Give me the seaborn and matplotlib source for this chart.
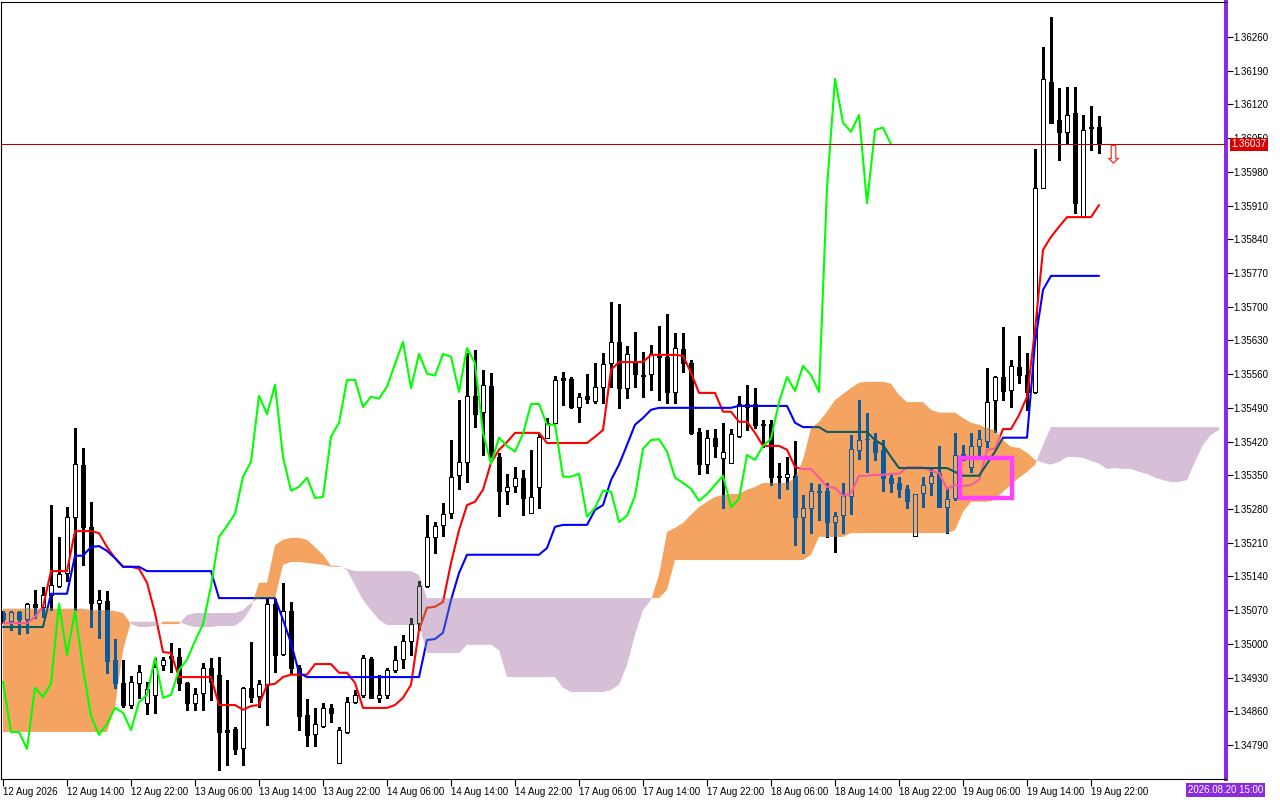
import numpy as np
import pandas as pd
import matplotlib
matplotlib.use("Agg")
import matplotlib.pyplot as plt
from matplotlib.path import Path
from matplotlib.patches import Rectangle
import seaborn as sns

# ---------------- data (H1 bars, 12 Aug 06:00 .. 19 Aug 23:00) ----------------
tick_labels = ["12 Aug 2026", "12 Aug 14:00", "12 Aug 22:00", "13 Aug 06:00", "13 Aug 14:00",
               "13 Aug 22:00", "14 Aug 06:00", "14 Aug 14:00", "14 Aug 22:00", "17 Aug 06:00",
               "17 Aug 14:00", "17 Aug 22:00", "18 Aug 06:00", "18 Aug 14:00", "18 Aug 22:00",
               "19 Aug 06:00", "19 Aug 14:00", "19 Aug 22:00"]
tick_every = 8
price_ticks = [1.34790, 1.34860, 1.34930, 1.35000, 1.35070, 1.35140, 1.35210, 1.35280,
               1.35350, 1.35420, 1.35490, 1.35560, 1.35630, 1.35700, 1.35770, 1.35840,
               1.35910, 1.35980, 1.36050, 1.36120, 1.36190, 1.36260]

open_ = [
    1.35064, 1.35048, 1.35066, 1.35052, 1.35083, 1.35077, 1.35102, 1.35120, 1.35147, 1.35264,
    1.35372, 1.35243, 1.35085, 1.35089, 1.34967, 1.34919, 1.34873, 1.34919, 1.34877, 1.34894,
    1.34956, 1.34975, 1.34973, 1.34919, 1.34877, 1.34898, 1.34950, 1.34936, 1.34821, 1.34823,
    1.34784, 1.34909, 1.34892, 1.34915, 1.35083, 1.34979, 1.35068, 1.34950, 1.34852, 1.34813,
    1.34830, 1.34867, 1.34753, 1.34817, 1.34879, 1.34894, 1.34969, 1.34888, 1.34894, 1.34946,
    1.34969, 1.35006, 1.35043, 1.35120, 1.35222, 1.35247, 1.35272, 1.35351, 1.35378, 1.35515,
    1.35482, 1.35536, 1.35388, 1.35318, 1.35328, 1.35345, 1.35272, 1.35326, 1.35428, 1.35459,
    1.35552, 1.35550, 1.35492, 1.35515, 1.35504, 1.35534, 1.35583, 1.35627, 1.35531, 1.35585,
    1.35558, 1.35561, 1.35598, 1.35596, 1.35523, 1.35612, 1.35583, 1.35440, 1.35374, 1.35428,
    1.35386, 1.35376, 1.35432, 1.35492, 1.35498, 1.35457, 1.35457, 1.35349, 1.35347, 1.35349,
    1.35264, 1.35282, 1.35318, 1.35318, 1.35253, 1.35268, 1.35307, 1.35403, 1.35426, 1.35421,
    1.35403, 1.35345, 1.35334, 1.35322, 1.35224, 1.35313, 1.35334, 1.35355, 1.35284, 1.35303,
    1.35394, 1.35367, 1.35411, 1.35421, 1.35506, 1.35554, 1.35527, 1.35575, 1.35558, 1.35523,
    1.35947, 1.36167, 1.36088, 1.36063, 1.36102, 1.35888, 1.36073, 1.36073]
high = [
    1.35068, 1.35068, 1.35068, 1.35085, 1.35112, 1.35118, 1.35288, 1.35222, 1.35284, 1.35448,
    1.35407, 1.35295, 1.35112, 1.35110, 1.35010, 1.34967, 1.34933, 1.34956, 1.34921, 1.34971,
    1.34973, 1.35002, 1.34992, 1.34921, 1.34909, 1.34960, 1.34971, 1.34973, 1.34925, 1.34828,
    1.34911, 1.35004, 1.34925, 1.35093, 1.35093, 1.35126, 1.35087, 1.34956, 1.34886, 1.34867,
    1.34877, 1.34875, 1.34828, 1.34890, 1.34904, 1.34977, 1.34973, 1.34936, 1.34950, 1.34996,
    1.35019, 1.35054, 1.35131, 1.35268, 1.35253, 1.35293, 1.35423, 1.35506, 1.35604, 1.35610,
    1.35569, 1.35563, 1.35397, 1.35353, 1.35367, 1.35361, 1.35403, 1.35436, 1.35469, 1.35556,
    1.35565, 1.35554, 1.35521, 1.35561, 1.35583, 1.35604, 1.35710, 1.35706, 1.35619, 1.35648,
    1.35606, 1.35621, 1.35660, 1.35685, 1.35646, 1.35646, 1.35590, 1.35448, 1.35444, 1.35446,
    1.35459, 1.35446, 1.35515, 1.35538, 1.35531, 1.35465, 1.35465, 1.35376, 1.35388, 1.35421,
    1.35309, 1.35334, 1.35332, 1.35334, 1.35274, 1.35334, 1.35434, 1.35506, 1.35480, 1.35438,
    1.35423, 1.35355, 1.35347, 1.35330, 1.35311, 1.35347, 1.35363, 1.35411, 1.35324, 1.35438,
    1.35413, 1.35438, 1.35444, 1.35573, 1.35556, 1.35658, 1.35590, 1.35639, 1.35604, 1.36028,
    1.36239, 1.36302, 1.36154, 1.36156, 1.36156, 1.36098, 1.36117, 1.36096]
low = [
    1.35045, 1.35029, 1.35021, 1.35023, 1.35054, 1.35056, 1.35070, 1.35118, 1.35131, 1.35070,
    1.35164, 1.35035, 1.35012, 1.34940, 1.34909, 1.34869, 1.34867, 1.34888, 1.34855, 1.34857,
    1.34946, 1.34942, 1.34904, 1.34863, 1.34863, 1.34863, 1.34884, 1.34738, 1.34749, 1.34772,
    1.34749, 1.34879, 1.34869, 1.34832, 1.34942, 1.34977, 1.34940, 1.34821, 1.34788, 1.34788,
    1.34828, 1.34838, 1.34753, 1.34815, 1.34877, 1.34890, 1.34888, 1.34879, 1.34888, 1.34942,
    1.34950, 1.34977, 1.35029, 1.35118, 1.35189, 1.35224, 1.35261, 1.35322, 1.35336, 1.35450,
    1.35392, 1.35388, 1.35266, 1.35291, 1.35316, 1.35268, 1.35272, 1.35282, 1.35428, 1.35459,
    1.35496, 1.35490, 1.35461, 1.35500, 1.35500, 1.35500, 1.35534, 1.35490, 1.35511, 1.35534,
    1.35513, 1.35527, 1.35506, 1.35500, 1.35500, 1.35565, 1.35436, 1.35353, 1.35355, 1.35388,
    1.35282, 1.35376, 1.35430, 1.35444, 1.35448, 1.35409, 1.35330, 1.35303, 1.35322, 1.35205,
    1.35189, 1.35230, 1.35257, 1.35222, 1.35191, 1.35230, 1.35270, 1.35384, 1.35357, 1.35382,
    1.35318, 1.35316, 1.35305, 1.35282, 1.35224, 1.35284, 1.35309, 1.35284, 1.35230, 1.35299,
    1.35382, 1.35357, 1.35388, 1.35409, 1.35440, 1.35506, 1.35492, 1.35542, 1.35486, 1.35521,
    1.35947, 1.36082, 1.36005, 1.36040, 1.35895, 1.35888, 1.36026, 1.36019]
close = [
    1.35052, 1.35066, 1.35052, 1.35083, 1.35077, 1.35102, 1.35122, 1.35145, 1.35264, 1.35374,
    1.35243, 1.35085, 1.35091, 1.34965, 1.34919, 1.34873, 1.34921, 1.34942, 1.34906, 1.34952,
    1.34967, 1.34971, 1.34919, 1.34877, 1.34896, 1.34950, 1.34921, 1.34817, 1.34817, 1.34782,
    1.34909, 1.34890, 1.34917, 1.35083, 1.34977, 1.35068, 1.34950, 1.34850, 1.34811, 1.34834,
    1.34867, 1.34857, 1.34821, 1.34879, 1.34894, 1.34971, 1.34888, 1.34894, 1.34946, 1.34967,
    1.35006, 1.35041, 1.35120, 1.35222, 1.35245, 1.35270, 1.35347, 1.35378, 1.35515, 1.35477,
    1.35538, 1.35388, 1.35318, 1.35326, 1.35345, 1.35303, 1.35305, 1.35430, 1.35459, 1.35548,
    1.35548, 1.35492, 1.35513, 1.35509, 1.35534, 1.35581, 1.35627, 1.35531, 1.35602, 1.35561,
    1.35557, 1.35602, 1.35596, 1.35523, 1.35614, 1.35583, 1.35438, 1.35374, 1.35428, 1.35411,
    1.35399, 1.35436, 1.35498, 1.35498, 1.35455, 1.35455, 1.35347, 1.35347, 1.35353, 1.35264,
    1.35282, 1.35318, 1.35316, 1.35253, 1.35266, 1.35307, 1.35405, 1.35423, 1.35425, 1.35399,
    1.35345, 1.35334, 1.35322, 1.35297, 1.35311, 1.35330, 1.35349, 1.35284, 1.35301, 1.35392,
    1.35382, 1.35411, 1.35426, 1.35502, 1.35554, 1.35525, 1.35577, 1.35558, 1.35523, 1.35947,
    1.36173, 1.36082, 1.36063, 1.36098, 1.35915, 1.36067, 1.36072, 1.36037]

tenkan = [
    1.35043, 1.35043, 1.35043, 1.35043, 1.35056, 1.35077, 1.35151, 1.35151, 1.35151, 1.35234,
    1.35234, 1.35234, 1.35230, 1.35201, 1.35178, 1.35160, 1.35160, 1.35156, 1.35127, 1.35064,
    1.34983, 1.34981, 1.34931, 1.34931, 1.34931, 1.34931, 1.34931, 1.34873, 1.34873, 1.34873,
    1.34863, 1.34871, 1.34873, 1.34915, 1.34917, 1.34931, 1.34936, 1.34936, 1.34936, 1.34958,
    1.34958, 1.34958, 1.34940, 1.34940, 1.34919, 1.34867, 1.34867, 1.34867, 1.34867, 1.34873,
    1.34888, 1.34915, 1.35029, 1.35075, 1.35077, 1.35087, 1.35168, 1.35236, 1.35288, 1.35295,
    1.35320, 1.35376, 1.35403, 1.35419, 1.35438, 1.35438, 1.35438, 1.35438, 1.35417, 1.35417,
    1.35417, 1.35417, 1.35417, 1.35417, 1.35430, 1.35444, 1.35569, 1.35585, 1.35585, 1.35585,
    1.35585, 1.35600, 1.35600, 1.35600, 1.35600, 1.35598, 1.35563, 1.35521, 1.35521, 1.35521,
    1.35482, 1.35482, 1.35461, 1.35461, 1.35438, 1.35411, 1.35411, 1.35411, 1.35403, 1.35367,
    1.35363, 1.35363, 1.35345, 1.35326, 1.35324, 1.35307, 1.35313, 1.35349, 1.35349, 1.35351,
    1.35351, 1.35353, 1.35353, 1.35367, 1.35367, 1.35367, 1.35359, 1.35355, 1.35322, 1.35330,
    1.35328, 1.35330, 1.35340, 1.35403, 1.35405, 1.35446, 1.35446, 1.35475, 1.35513, 1.35652,
    1.35818, 1.35845, 1.35866, 1.35886, 1.35886, 1.35886, 1.35886, 1.35911]
kijun = [
    1.35035, 1.35035, 1.35035, 1.35035, 1.35035, 1.35035, 1.35104, 1.35104, 1.35104, 1.35183,
    1.35183, 1.35201, 1.35203, 1.35193, 1.35178, 1.35160, 1.35160, 1.35160, 1.35151, 1.35151,
    1.35151, 1.35151, 1.35151, 1.35151, 1.35151, 1.35151, 1.35151, 1.35095, 1.35095, 1.35095,
    1.35095, 1.35095, 1.35095, 1.35095, 1.35095, 1.35050, 1.35002, 1.34940, 1.34931, 1.34931,
    1.34931, 1.34931, 1.34931, 1.34931, 1.34931, 1.34931, 1.34931, 1.34931, 1.34931, 1.34931,
    1.34931, 1.34931, 1.34931, 1.35008, 1.35010, 1.35023, 1.35091, 1.35147, 1.35185, 1.35185,
    1.35185, 1.35185, 1.35185, 1.35185, 1.35185, 1.35185, 1.35185, 1.35185, 1.35199, 1.35243,
    1.35247, 1.35247, 1.35247, 1.35247, 1.35278, 1.35288, 1.35340, 1.35372, 1.35413, 1.35455,
    1.35469, 1.35486, 1.35490, 1.35490, 1.35490, 1.35490, 1.35490, 1.35490, 1.35490, 1.35490,
    1.35490, 1.35490, 1.35494, 1.35494, 1.35494, 1.35494, 1.35494, 1.35494, 1.35494, 1.35459,
    1.35450, 1.35450, 1.35450, 1.35440, 1.35440, 1.35440, 1.35440, 1.35440, 1.35440, 1.35423,
    1.35413, 1.35388, 1.35365, 1.35365, 1.35365, 1.35365, 1.35365, 1.35365, 1.35365, 1.35357,
    1.35349, 1.35349, 1.35349, 1.35374, 1.35399, 1.35428, 1.35428, 1.35428, 1.35428, 1.35625,
    1.35735, 1.35764, 1.35764, 1.35764, 1.35764, 1.35764, 1.35764, 1.35764]
span_a = [
    1.35073, 1.35073, 1.35073, 1.35073, 1.35073, 1.35073, 1.35073, 1.35073, 1.35073, 1.35073,
    1.35073, 1.35070, 1.35070, 1.35070, 1.35068, 1.35064, 1.35041, 1.35035, 1.35035, 1.35037,
    1.35046, 1.35046, 1.35046, 1.35039, 1.35035, 1.35035, 1.35035, 1.35037, 1.35037, 1.35037,
    1.35050, 1.35075, 1.35127, 1.35127, 1.35205, 1.35216, 1.35220, 1.35220, 1.35216, 1.35201,
    1.35185, 1.35162, 1.35162, 1.35153, 1.35122, 1.35091, 1.35070, 1.35050, 1.35039, 1.35039,
    1.35039, 1.35039, 1.35039, 1.34981, 1.34981, 1.34981, 1.34981, 1.34981, 1.34998, 1.34998,
    1.34998, 1.34998, 1.34987, 1.34931, 1.34931, 1.34931, 1.34931, 1.34931, 1.34931, 1.34931,
    1.34909, 1.34900, 1.34900, 1.34900, 1.34900, 1.34900, 1.34904, 1.34915, 1.34956, 1.35019,
    1.35070, 1.35091, 1.35143, 1.35232, 1.35241, 1.35251, 1.35268, 1.35284, 1.35295, 1.35305,
    1.35309, 1.35311, 1.35311, 1.35320, 1.35326, 1.35334, 1.35334, 1.35334, 1.35334, 1.35345,
    1.35382, 1.35448, 1.35461, 1.35482, 1.35506, 1.35519, 1.35531, 1.35542, 1.35544, 1.35544,
    1.35544, 1.35540, 1.35517, 1.35502, 1.35502, 1.35502, 1.35486, 1.35480, 1.35480, 1.35480,
    1.35469, 1.35459, 1.35455, 1.35448, 1.35444, 1.35423, 1.35409, 1.35407, 1.35397, 1.35382,
    1.35376, 1.35372, 1.35378, 1.35388, 1.35388, 1.35386, 1.35380, 1.35374, 1.35363, 1.35365,
    1.35363, 1.35363, 1.35357, 1.35353, 1.35345, 1.35340, 1.35336, 1.35336, 1.35340, 1.35378,
    1.35413, 1.35434, 1.35444]
span_b = [
    1.34817, 1.34817, 1.34817, 1.34817, 1.34817, 1.34817, 1.34817, 1.34817, 1.34817, 1.34817,
    1.34817, 1.34817, 1.34817, 1.34817, 1.34869, 1.34987, 1.35046, 1.35046, 1.35046, 1.35046,
    1.35041, 1.35041, 1.35041, 1.35060, 1.35064, 1.35064, 1.35064, 1.35064, 1.35064, 1.35064,
    1.35070, 1.35085, 1.35095, 1.35095, 1.35095, 1.35164, 1.35170, 1.35170, 1.35168, 1.35166,
    1.35164, 1.35160, 1.35160, 1.35156, 1.35151, 1.35151, 1.35151, 1.35151, 1.35151, 1.35151,
    1.35151, 1.35151, 1.35143, 1.35095, 1.35095, 1.35095, 1.35095, 1.35095, 1.35095, 1.35095,
    1.35095, 1.35095, 1.35095, 1.35095, 1.35095, 1.35095, 1.35095, 1.35095, 1.35095, 1.35095,
    1.35095, 1.35095, 1.35095, 1.35095, 1.35095, 1.35095, 1.35095, 1.35095, 1.35095, 1.35095,
    1.35095, 1.35095, 1.35095, 1.35112, 1.35174, 1.35174, 1.35174, 1.35174, 1.35174, 1.35174,
    1.35174, 1.35174, 1.35174, 1.35174, 1.35174, 1.35174, 1.35174, 1.35174, 1.35174, 1.35174,
    1.35174, 1.35185, 1.35222, 1.35222, 1.35222, 1.35222, 1.35230, 1.35230, 1.35230, 1.35230,
    1.35230, 1.35230, 1.35230, 1.35230, 1.35230, 1.35230, 1.35230, 1.35230, 1.35230, 1.35236,
    1.35274, 1.35295, 1.35295, 1.35295, 1.35299, 1.35316, 1.35330, 1.35345, 1.35357, 1.35372,
    1.35413, 1.35450, 1.35450, 1.35450, 1.35450, 1.35450, 1.35450, 1.35450, 1.35450, 1.35450,
    1.35450, 1.35450, 1.35450, 1.35450, 1.35450, 1.35450, 1.35450, 1.35450, 1.35450, 1.35450,
    1.35450, 1.35450, 1.35450]
chikou_shift = 26
box_bars = [119.6, 126.1]
box_prices = [1.35303, 1.35386]
arrow_bar = 138.75
arrow_price = 1.36013
end_time_label = "2026.08.20 15:00"

# ---------------- style ----------------
sns.set_theme(style="white")
plt.rcParams['font.family'] = ['Liberation Sans', 'DejaVu Sans']

ORANGE = '#f4a460'
THISTLE = '#d8bfd8'
PURPLE = '#8a2be2'

W, H = 1280, 800
fig = plt.figure(figsize=(W / 100, H / 100), dpi=100, facecolor='white')
ax = fig.add_axes([1 / W, 21 / H, 1224.5 / W, 777 / H])
ax.set_facecolor('white')

o = np.array(open_)
hi = np.array(high)
lo = np.array(low)
c = np.array(close)
n = len(c)
idx = np.arange(n)


def candles(wick, bull_face, bull_edge, bear, z, clip=None):
    arts = [ax.vlines(idx, lo, hi, colors=wick, linewidth=0.75, zorder=z, antialiased=False)]
    up = c >= o
    bot = np.minimum(o, c)
    ht = np.abs(c - o)
    arts += list(ax.bar(idx[up], ht[up], bottom=bot[up], width=0.6, facecolor=bull_face,
                        edgecolor=bull_edge, linewidth=0.6, zorder=z + 0.1,
                        antialiased=False, snap=True))
    arts += list(ax.bar(idx[~up], ht[~up], bottom=bot[~up], width=0.6, facecolor=bear,
                        edgecolor=bear, linewidth=0.6, zorder=z + 0.1,
                        antialiased=False, snap=True))
    if clip is not None:
        for a in arts:
            a.set_clip_path(clip, ax.transData)


# base candles
candles('black', 'white', 'black', 'black', 2)

# tenkan / kijun
df_lines = pd.DataFrame({'bar': idx, 'tenkan': tenkan, 'kijun': kijun})
sns.lineplot(data=df_lines, x='bar', y='tenkan', ax=ax, color='#ff0000', linewidth=1.5, zorder=3)
sns.lineplot(data=df_lines, x='bar', y='kijun', ax=ax, color='#0000ff', linewidth=1.5, zorder=3)

# cloud
pos = np.arange(len(span_a))
A = np.array(span_a)
B = np.array(span_b)
cloud_up = ax.fill_between(pos, A, B, where=A >= B, interpolate=True, facecolor=ORANGE,
                           edgecolor='none', linewidth=0, zorder=4)
cloud_dn = ax.fill_between(pos, A, B, where=A < B, interpolate=True, facecolor=THISTLE,
                           edgecolor='none', linewidth=0, zorder=4)


def compound(coll):
    ps = coll.get_paths()
    return Path.make_compound_path(*ps) if len(ps) else None


clip_up = compound(cloud_up)
clip_dn = compound(cloud_dn)

# colour-inverted look of everything under the cloud
for clip, blk, bface, red, blue in [(clip_up, '#0b5b9f', ORANGE, '#f45b9f', '#0b5b60'),
                                    (clip_dn, '#274027', THISTLE, '#d84027', '#2740d8')]:
    if clip is None:
        continue
    candles(blk, bface, blk, blk, 5, clip)
    l1, = ax.plot(idx, tenkan, color=red, linewidth=1.5, zorder=5.5)
    l2, = ax.plot(idx, kijun, color=blue, linewidth=1.5, zorder=5.5)
    l1.set_clip_path(clip, ax.transData)
    l2.set_clip_path(clip, ax.transData)

# chikou span
df_ch = pd.DataFrame({'bar': idx[chikou_shift:] - chikou_shift, 'close': c[chikou_shift:]})
sns.lineplot(data=df_ch, x='bar', y='close', ax=ax, color='#00ff00', linewidth=1.5, zorder=6)

# current price line
ax.axhline(c[-1], color='#b00000', linewidth=0.75, zorder=6.5)

# highlight box and arrow
ax.add_patch(Rectangle((box_bars[0], box_prices[0]), box_bars[1] - box_bars[0],
                       box_prices[1] - box_prices[0], fill=False, edgecolor='#ff40ff',
                       linewidth=3.2, zorder=8))
ax.text(arrow_bar, arrow_price, '\u21e9', color='#ff2a2a', fontsize=18, ha='center',
        va='center', family='DejaVu Sans', zorder=9)

# axes
ax.set_xlim(-0.25, 152.81)
ax.set_ylim(1.347194, 1.363326)
ax.set_xlabel('')
ax.set_ylabel('')
ax.grid(False)

ax.set_xticks(idx[::tick_every][:len(tick_labels)])
ax.set_xticklabels(tick_labels, ha='left')
ax.set_yticks(price_ticks)
ax.set_yticklabels([f"{p:.5f}" for p in price_ticks])
ax.yaxis.tick_right()
ax.tick_params(axis='y', which='both', right=True, left=False, labelright=True, labelleft=False,
               length=4.8, width=0.8, pad=1, labelsize=7, colors='black', direction='out')
ax.tick_params(axis='x', which='both', bottom=True, length=5, width=0.8, pad=1,
               labelsize=7, colors='black', direction='out')

for s in ['left', 'top', 'bottom']:
    ax.spines[s].set_color('black')
    ax.spines[s].set_linewidth(0.8)
ax.spines['right'].set_color(PURPLE)
ax.spines['right'].set_linewidth(2.9)

# current price label
ax.annotate(f"{c[-1]:.5f}", xy=(1, c[-1]), xycoords=('axes fraction', 'data'),
            xytext=(6, 0), textcoords='offset pixels', ha='left', va='center', fontsize=7,
            color='white', bbox=dict(boxstyle='square,pad=0.12', fc='#d80000', ec='none'),
            zorder=20, annotation_clip=False)

# time-scale end label
fig.text(1188 / W, 1 - 790 / H, end_time_label, fontsize=7, color='white', ha='left',
         va='center', bbox=dict(boxstyle='square,pad=0.2', fc=PURPLE, ec='none'))

fig.savefig('out.png', dpi=100, facecolor='white')
